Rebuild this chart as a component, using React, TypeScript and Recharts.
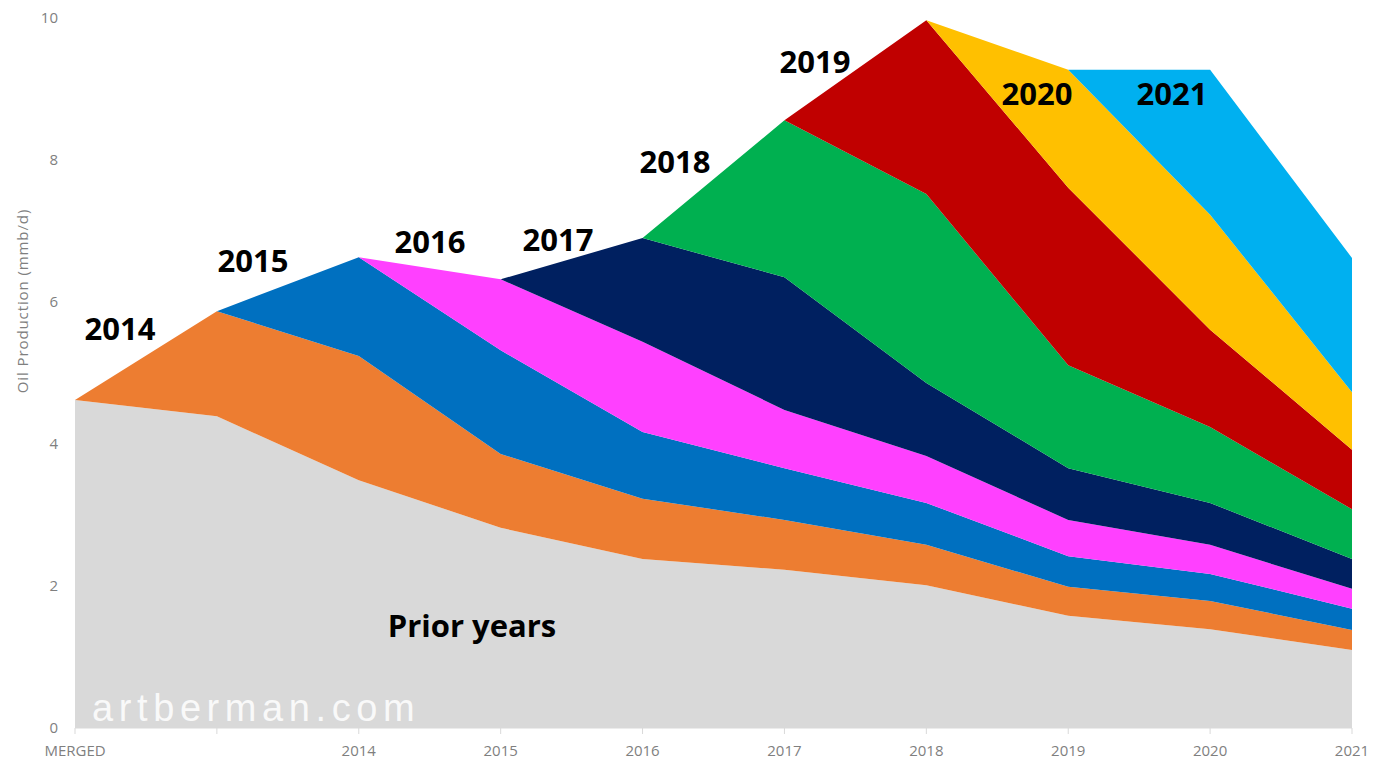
import React from 'react';
import { AreaChart, Area, XAxis, YAxis } from 'recharts';

// x categories (second one has no label in the original)
const years = ['MERGED', ' ', '2014', '2015', '2016', '2017', '2018', '2019', '2020', '2021'];

// production by vintage, mmb/d
const prior = [4.62, 4.39, 3.49, 2.82, 2.38, 2.23, 2.01, 1.58, 1.39, 1.1];
const v2014 = [0, 1.48, 1.75, 1.04, 0.85, 0.7, 0.57, 0.41, 0.4, 0.28];
const v2015 = [0, 0, 1.39, 1.46, 0.94, 0.73, 0.59, 0.43, 0.38, 0.3];
const v2016 = [0, 0, 0, 1.0, 1.27, 0.82, 0.66, 0.51, 0.41, 0.28];
const v2017 = [0, 0, 0, 0, 1.46, 1.87, 1.03, 0.73, 0.59, 0.42];
const v2018 = [0, 0, 0, 0, 0, 2.21, 2.66, 1.45, 1.07, 0.7];
const v2019 = [0, 0, 0, 0, 0, 0, 2.45, 2.5, 1.37, 0.84];
const v2020 = [0, 0, 0, 0, 0, 0, 0, 1.66, 1.62, 0.81];
const v2021 = [0, 0, 0, 0, 0, 0, 0, 0, 2.04, 1.89];

const yTicks = [0, 2, 4, 6, 8, 10];

const series = [
  { key: 'Prior years', values: prior, color: '#d9d9d9' },
  { key: '2014', values: v2014, color: '#ed7d31' },
  { key: '2015', values: v2015, color: '#0070c0' },
  { key: '2016', values: v2016, color: '#ff40ff' },
  { key: '2017', values: v2017, color: '#002060' },
  { key: '2018', values: v2018, color: '#00b050' },
  { key: '2019', values: v2019, color: '#c00000' },
  { key: '2020', values: v2020, color: '#ffc000' },
  { key: '2021', values: v2021, color: '#00b0f0' },
];

const data = years.map((year, i) => {
  const row: any = { year };
  series.forEach(s => {
    row[s.key] = s.values[i];
  });
  return row;
});

// annotation labels placed over the areas
const labels = [
  { text: '2014', x: 120, y: 340 },
  { text: '2015', x: 253, y: 272 },
  { text: '2016', x: 430, y: 253 },
  { text: '2017', x: 558, y: 251 },
  { text: '2018', x: 675, y: 173 },
  { text: '2019', x: 815, y: 73 },
  { text: '2020', x: 1037, y: 105 },
  { text: '2021', x: 1172, y: 105 },
  { text: 'Prior years', x: 472, y: 637 },
];

const tickStyle = { fill: '#7f7f7f', fontSize: 15, fontFamily: 'Open Sans' };

const App: React.FC = () => {
  return (
    <div style={{ position: 'absolute', left: 0, top: 0, width: 1379, height: 763, background: '#fff' }}>
      <AreaChart width={1379} height={763} data={data} margin={{ top: 18, right: 27, left: 0, bottom: 0 }}>
        <XAxis
          dataKey="year"
          interval={0}
          height={35}
          stroke="#d9d9d9"
          tickSize={6}
          tickMargin={11}
          tick={tickStyle}
        />
        <YAxis
          domain={[0, 10]}
          ticks={yTicks}
          width={75}
          axisLine={false}
          tickLine={false}
          tickSize={0}
          tickMargin={17}
          tick={tickStyle}
        />
        {series.map(s => (
          <Area
            key={s.key}
            type="linear"
            dataKey={s.key}
            stackId="a"
            stroke="none"
            fill={s.color}
            fillOpacity={1}
            dot={false}
            activeDot={false}
            isAnimationActive={false}
          />
        ))}
      </AreaChart>
      <svg
        width={1379}
        height={763}
        style={{ position: 'absolute', left: 0, top: 0, pointerEvents: 'none' }}
      >
        <text
          x={24}
          y={301}
          transform="rotate(-90 24 301)"
          textAnchor="middle"
          dominantBaseline="middle"
          fill="#7f7f7f"
          fontSize={15}
          letterSpacing={0.9}
          fontFamily="Open Sans"
        >
          Oil Production (mmb/d)
        </text>
        {labels.map(l => (
          <text
            key={l.text}
            x={l.x}
            y={l.y}
            textAnchor="middle"
            fill="#000"
            fontSize={31}
            fontWeight="bold"
            fontFamily="Open Sans"
          >
            {l.text}
          </text>
        ))}
        <text
          x={92}
          y={721}
          fill="#ffffff"
          fillOpacity={0.85}
          fontSize={38}
          letterSpacing={5.6}
          fontFamily="Liberation Sans"
        >
          artberman.com
        </text>
      </svg>
    </div>
  );
};

export default App;
